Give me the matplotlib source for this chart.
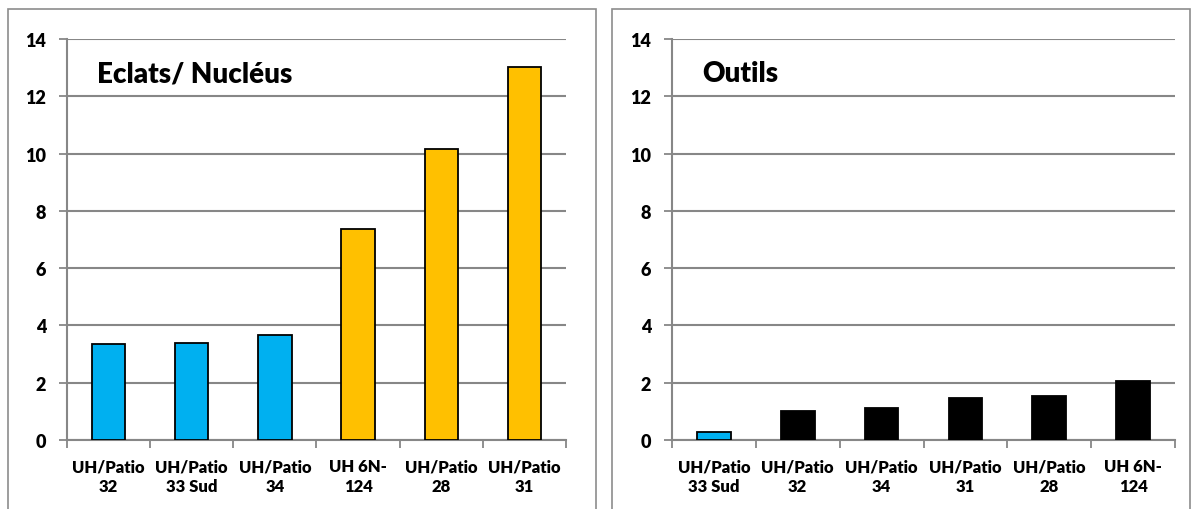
import matplotlib.pyplot as plt
from matplotlib.patches import Rectangle
import numpy as np

plt.rcParams['font.family'] = ['Lato', 'DejaVu Sans']
plt.rcParams['font.weight'] = 'bold'

left_cats = ["UH/Patio\n32", "UH/Patio\n33 Sud", "UH/Patio\n34", "UH 6N-\n124", "UH/Patio\n28", "UH/Patio\n31"]
left_vals = [3.35, 3.37, 3.65, 7.35, 10.15, 13.02]
left_colors = ["#00B0F0", "#00B0F0", "#00B0F0", "#FFC000", "#FFC000", "#FFC000"]

right_cats = ["UH/Patio\n33 Sud", "UH/Patio\n32", "UH/Patio\n34", "UH/Patio\n31", "UH/Patio\n28", "UH 6N-\n124"]
right_vals = [0.28, 1.02, 1.12, 1.45, 1.52, 2.07]
right_colors = ["#00B0F0", "black", "black", "black", "black", "black"]

W, H = 1193, 510
GRID = "#878787"

fig = plt.figure(figsize=(W / 100, H / 100), dpi=100)

# chart frames (cut by the bottom of the image)
for x0, x1 in [(8, 596), (612, 1190)]:
    fig.patches.append(Rectangle((x0 / W, -0.1), (x1 - x0) / W, 1.1 - 10 / H,
                                 transform=fig.transFigure, fill=False,
                                 edgecolor="#8c8c8c", lw=1.2))


def panel(rect, cats, vals, colors, title):
    l, r, t, b = rect
    ax = fig.add_axes([l / W, 1 - b / H, (r - l) / W, (b - t) / H])
    x = np.arange(len(cats))
    ax.bar(x, vals, width=0.4, color=colors, edgecolor="black", lw=1.3, zorder=3)
    ax.set_xlim(-0.5, len(cats) - 0.5)
    ax.set_ylim(0, 14)
    ax.set_yticks(range(0, 15, 2))
    ax.yaxis.grid(True, color=GRID, lw=1.5, zorder=0)
    ax.set_axisbelow(True)
    ax.set_xticks(x)
    ax.set_xticklabels(cats, fontsize=12, fontweight="heavy", linespacing=1.3)
    ax.set_xticks(np.arange(-0.5, len(cats)), minor=True)
    ax.tick_params(axis="x", which="major", length=0, pad=13)
    ax.tick_params(axis="x", which="minor", length=6, width=1.3, color=GRID, direction="out")
    ax.tick_params(axis="y", length=6, width=1.3, color=GRID, labelsize=13, pad=9)
    for lab in ax.get_yticklabels():
        lab.set_fontweight("heavy")
    for s in ["top", "right"]:
        ax.spines[s].set_visible(False)
    for s in ["left", "bottom"]:
        ax.spines[s].set_color(GRID)
        ax.spines[s].set_linewidth(1.5)
    ax.text(0.06, 0.915, title, transform=ax.transAxes, fontsize=20,
            fontweight="heavy", va="center", ha="left")
    return ax


panel((67, 566, 40, 441), left_cats, left_vals, left_colors, "Eclats/ Nucléus")
panel((672, 1175, 40, 441), right_cats, right_vals, right_colors, "Outils")

fig.savefig("out.png", dpi=100)
